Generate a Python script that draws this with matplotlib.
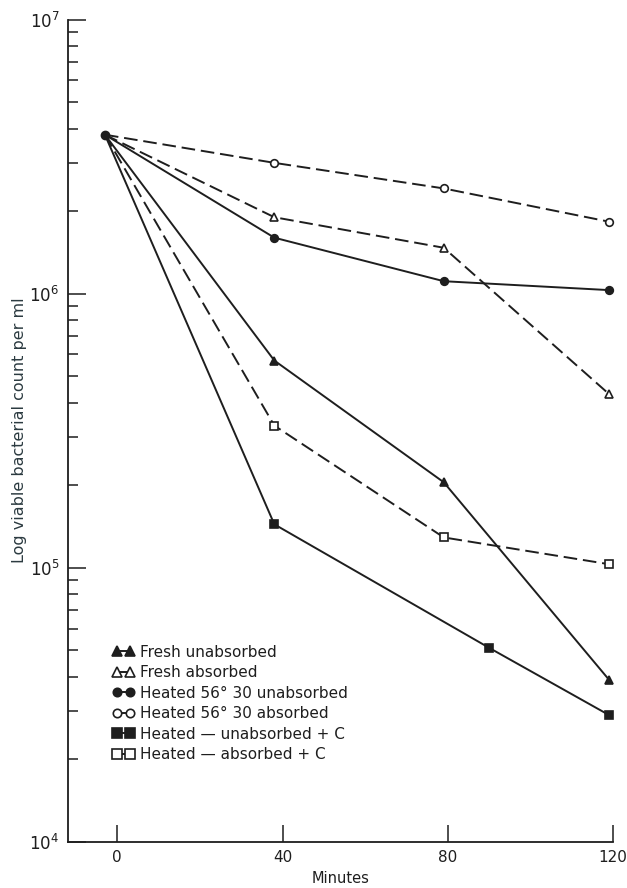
import numpy as np
import matplotlib.pyplot as plt
from matplotlib.ticker import LogLocator, NullFormatter, FixedLocator

plt.rcParams['font.family'] = ['DejaVu Sans']
plt.rcParams['mathtext.fontset'] = 'dejavusans'

# data to plot
start_time = -3
start_count = 3.8e6

times = [38, 79, 119]
times_heated_c = [38, 90, 119]

fresh_unabsorbed = [5.7e5, 2.05e5, 3.9e4]
fresh_absorbed = [1.9e6, 1.47e6, 4.3e5]
heated56_unabsorbed = [1.6e6, 1.11e6, 1.03e6]
heated56_absorbed = [3.0e6, 2.42e6, 1.83e6]
heated_unabsorbed_c = [1.44e5, 5.1e4, 2.9e4]
heated_absorbed_c = [3.3e5, 1.29e5, 1.03e5]

labels = ['Fresh unabsorbed', 'Fresh absorbed', 'Heated 56\u00b0 30 unabsorbed',
          'Heated 56\u00b0 30 absorbed', 'Heated \u2014 unabsorbed + C',
          'Heated \u2014 absorbed + C']

ink = '#1e1e1e'
solid = '-'
dashed = (0, (7, 3))

series = [
    (times, fresh_unabsorbed, '^', ink, solid),
    (times, fresh_absorbed, '^', 'white', dashed),
    (times, heated56_unabsorbed, 'o', ink, solid),
    (times, heated56_absorbed, 'o', 'white', dashed),
    (times_heated_c, heated_unabsorbed_c, 's', ink, solid),
    (times, heated_absorbed_c, 's', 'white', dashed),
]

fig = plt.figure(figsize=(6.27, 8.88), dpi=100)
ax = fig.add_axes([0.108, 0.052, 0.870, 0.926])

handles = []
for (t, vals, mk, fc, ls), lab in zip(series, labels):
    x = [start_time] + list(t)
    y = [start_count] + list(vals)
    ln, = ax.plot(x, y, color=ink, lw=1.4, linestyle=ls, marker=mk,
                  markersize=6 if mk != 'o' else 5.5, markerfacecolor=fc,
                  markeredgecolor=ink, markeredgewidth=1.2,
                  markevery=slice(1, None), clip_on=False, label=lab)
    handles.append(ln)

# common starting point
ax.plot([start_time], [start_count], 'o', color=ink, markersize=6, clip_on=False)

ax.set_yscale('log')
ax.set_ylim(1e4, 1e7)
ax.set_xlim(-12, 120)

ax.spines['top'].set_visible(False)
ax.spines['right'].set_visible(False)
ax.spines['left'].set_color(ink)
ax.spines['bottom'].set_color(ink)
ax.spines['left'].set_linewidth(1.3)
ax.spines['bottom'].set_linewidth(1.3)

ax.xaxis.set_major_locator(FixedLocator([0, 40, 80, 120]))
ax.set_xticklabels(['0', '40', '80', '120'])
ax.tick_params(axis='x', direction='in', length=12, width=1.1, colors=ink,
               labelsize=11, pad=6)

ax.yaxis.set_major_locator(LogLocator(base=10, numticks=10))
ax.yaxis.set_minor_locator(LogLocator(base=10, subs=np.arange(2, 10), numticks=20))
ax.yaxis.set_minor_formatter(NullFormatter())
ax.tick_params(axis='y', which='major', direction='in', length=13, width=1.1,
               colors=ink, labelsize=12, pad=6)
ax.tick_params(axis='y', which='minor', direction='in', length=7, width=1.1,
               colors=ink)

ax.set_xlabel('Minutes', fontsize=10.5, color=ink, labelpad=4)
ax.set_ylabel('Log viable bacterial count per ml', fontsize=11.5, color='#2b3a40')
ax.yaxis.set_label_coords(-0.075, 0.5)

leg = ax.legend(handles=handles, loc='upper left', bbox_to_anchor=(0.07, 0.247),
                frameon=False, numpoints=2, handlelength=1.5, handletextpad=0.3,
                labelspacing=0.36, fontsize=11, borderaxespad=0, markerscale=1.1)
for t in leg.get_texts():
    t.set_color(ink)

fig.savefig('out.png', dpi=100)
